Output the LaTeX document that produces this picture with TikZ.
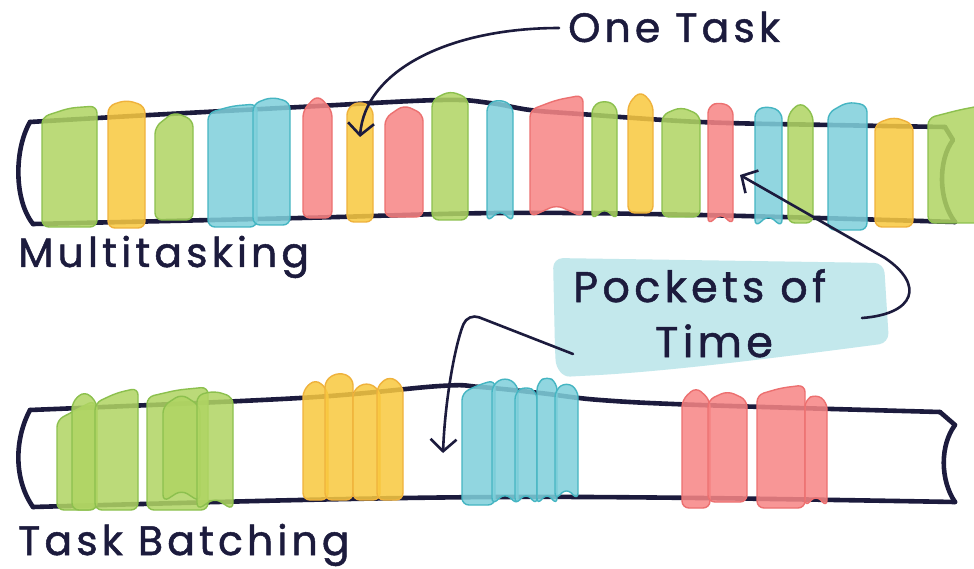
\documentclass[tikz,border=0pt]{standalone}
\usepackage{fontspec}
\setmainfont{Poppins}[LetterSpace=10,FakeBold=1.2]
\usetikzlibrary{arrows.meta}
\definecolor{ink}{HTML}{1C1B3D}
\definecolor{gF}{HTML}{B0D563}\definecolor{gD}{HTML}{8CC04E}
\definecolor{yF}{HTML}{F9C940}\definecolor{yD}{HTML}{EFB23C}
\definecolor{bF}{HTML}{80D0DB}\definecolor{bD}{HTML}{45B5C2}
\definecolor{rF}{HTML}{F78585}\definecolor{rD}{HTML}{EC7070}
\definecolor{pocket}{HTML}{C3E8EC}
\newcommand\tb[7]{\draw[#1] (#2,#7) -- (#2,#4) -- ({(#2+#3)/2},#5) -- (#3,#6) -- (#3,#7) -- cycle;}
\newcommand\tbn[7]{\draw[#1] (#2,#7) -- (#2,#4) -- ({(#2+#3)/2},#5) -- (#3,#6) -- (#3,#7) -- ({(#2+#3)/2},{#7-12}) -- cycle;}
\tikzset{
  blk/.style={line width=1.4pt, fill opacity=0.86, rounded corners=7pt, line join=round},
  gb/.style={blk, fill=gF, draw=gD},
  yb/.style={blk, fill=yF, draw=yD},
  bb/.style={blk, fill=bF, draw=bD},
  rb/.style={blk, fill=rF, draw=rD},
  bar/.style={draw=ink, line width=4.6pt, line cap=round, line join=round},
  arr/.style={draw=ink, line width=2.6pt, line cap=round, -{Straight Barb[length=12pt,width=26pt,line width=2.6pt]}},
  lbl/.style={text=ink, inner sep=0pt, anchor=base west, font=\fontsize{41}{45}\selectfont},
  biglbl/.style={lbl, font=\fontsize{43}{47}\selectfont},
}
\begin{document}
\begin{tikzpicture}[x=1pt,y=-1pt]
\useasboundingbox (0,0) rectangle (974,569);
\fill[white] (0,0) rectangle (974,569);
% pocket box
\fill[pocket, rounded corners=10pt] (553,258) -- (884,263) -- (889,343) .. controls (760,360) and (660,372) .. (580,376) .. controls (562,377) and (556,368) .. (555,350) -- cycle;
% top bar
\draw[bar] plot[smooth, tension=0.6] coordinates {(30,122) (150,115) (300,107) (440,100) (490,103) (530,110) (580,114) (700,122) (830,125) (945,127)};
\draw[bar] plot[smooth, tension=0.6] coordinates {(33,224) (300,218) (500,213) (700,215) (955,222)};
\draw[bar] (30,122) .. controls (14,150) and (14,200) .. (33,224);
\draw[bar] (945,127) -- (953,140) .. controls (938,160) and (938,200) .. (955,222);
% bottom bar
\draw[bar] plot[smooth, tension=0.6] coordinates {(30,410) (300,398) (440,386) (480,387) (540,393) (600,400) (700,405) (940,412)};
\draw[bar] plot[smooth, tension=0.6] coordinates {(33,507) (300,500) (500,497) (700,498) (955,502)};
\draw[bar] (30,410) .. controls (14,440) and (14,480) .. (33,507);
\draw[bar] (940,412) -- (955,425) .. controls (940,445) and (940,480) .. (955,502);
% top blocks
\tb{gb}{42}{97}{117}{108}{106}{227}
\tb{yb}{108}{145}{106}{100}{106}{228}
\tb{gb}{155}{193}{127}{112}{120}{220}
\tb{bb}{208}{257}{113}{106}{104}{227}
\tb{bb}{253}{290}{104}{97}{102}{225}
\tb{rb}{303}{332}{110}{95}{110}{218}
\tb{yb}{347}{373}{108}{101}{108}{222}
\tb{rb}{385}{423}{118}{105}{114}{217}
\tb{gb}{432}{468}{100}{91}{98}{220}
\tbn{bb}{487}{513}{104}{99}{106}{222}
\tbn{rb}{530}{583}{110}{100}{95}{217}
\tbn{gb}{592}{617}{106}{100}{106}{220}
\tb{yb}{628}{653}{104}{91}{104}{213}
\tb{gb}{662}{700}{115}{107}{115}{217}
\tbn{rb}{708}{733}{106}{102}{108}{225}
\tbn{bb}{755}{782}{110}{106}{112}{227}
\tb{gb}{788}{813}{114}{102}{114}{223}
\tb{bb}{828}{867}{113}{102}{105}{230}
\tb{yb}{875}{913}{124}{117}{124}{227}
\tb{gb}{928}{990}{118}{110}{104}{223}
% bottom blocks: green
\tb{gb}{57}{95}{420}{410}{400}{510}
\tb{gb}{72}{97}{402}{391}{402}{510}
\tb{gb}{95}{138}{403}{393}{388}{510}
\tb{gb}{147}{208}{397}{390}{387}{510}
\tbn{gb}{163}{200}{406}{394}{406}{502}
\tbn{gb}{197}{233}{395}{391}{397}{510}
% yellow
\tb{yb}{303}{328}{390}{379}{390}{500}
\tb{yb}{325}{353}{380}{372}{378}{500}
\tb{yb}{353}{380}{390}{382}{390}{500}
\tb{yb}{377}{403}{386}{376}{386}{500}
% blue
\tb{bb}{462}{495}{393}{385}{380}{505}
\tbn{bb}{492}{518}{385}{377}{385}{505}
\tbn{bb}{515}{537}{392}{386}{392}{505}
\tbn{bb}{537}{557}{383}{376}{383}{505}
\tbn{bb}{555}{578}{390}{382}{390}{500}
% red
\tb{rb}{682}{710}{400}{387}{400}{508}
\tb{rb}{708}{747}{400}{391}{400}{502}
\tb{rb}{757}{805}{395}{388}{385}{508}
\tbn{rb}{805}{827}{400}{394}{402}{507}
% labels
\node[lbl] (onetask) at (568,42) {One Task};
\node[lbl] (multi) at (18,267) {Multitasking};
\node[lbl] (batch) at (18,555) {Task Batching};
\node[biglbl] (pockets) at (573,302) {Pockets of};
\node[biglbl] (time) at (655,357) {Time};
% arrows
\coordinate (tipone) at (360,137);
\coordinate (pstartA) at (862,318);
\coordinate (tipA) at (740,175);
\coordinate (pstartB) at (573,354);
\coordinate (tipB) at (443,453);
\draw[arr] ([xshift=-9pt,yshift=-1pt]onetask.west) .. controls (450,28) and (365,70) .. (tipone);
\draw[arr] (pstartA) .. controls (915,314) and (925,285) .. (885,258) -- (tipA);
\draw[arr, rounded corners=12pt] (pstartB) -- (468,313) .. controls (455,345) and (445,400) .. (tipB);
\end{tikzpicture}
\end{document}
